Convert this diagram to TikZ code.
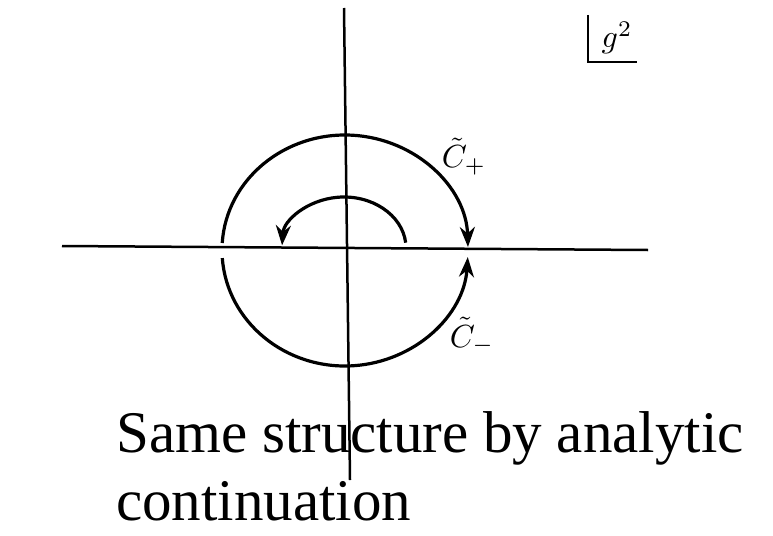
\documentclass[tikz,border=0pt]{standalone}
\usepackage{graphicx}
\usepackage[no-math]{fontspec}
\newfontfamily\capfont{Liberation Serif}
\usetikzlibrary{arrows.meta}
\newcommand{\bigmath}[1]{\scalebox{3.2}{$#1$}}
\begin{document}
\begin{tikzpicture}[x=1pt,y=-1pt,
  axis/.style={line width=2.5pt},
  contour/.style={line width=3.2pt,-{Stealth[length=20pt,width=15pt]}},
  mathlabel/.style={inner sep=0pt},
  caption/.style={font=\capfont\fontsize{59}{68}\selectfont, inner sep=0pt, anchor=base west}]
\useasboundingbox (0,0) rectangle (773,535);
\coordinate (O) at (345,250);
\coordinate (Oi) at (344,248);
% caption text
\node[caption] (cap1) at (116,452) {Same structure by analytic};
\node[caption] (cap2) at (116,520) {continuation};
% axes
\coordinate (xl) at (62,246);
\coordinate (xr) at (648,250);
\coordinate (yt) at (344,8);
\coordinate (yb) at (350,480);
\draw[axis] (xl) -- (xr);
\draw[axis] (yt) -- (yb);
% outer contours
\draw[contour] (O) ++(183.5:123 and 115) arc[start angle=183.5, end angle=358.5, x radius=123, y radius=115];
\draw[contour] (O) ++(176:123 and 116) arc[start angle=176, end angle=3.5, x radius=123, y radius=116];
% inner contour
\draw[contour] (Oi) ++(354:62 and 51) arc[start angle=354, end angle=183, x radius=62, y radius=51];
% labels
\node[mathlabel] (cp) at (464,157) {\bigmath{\tilde C_+}};
\node[mathlabel] (cm) at (472,336) {\bigmath{\tilde C_-}};
% g^2 corner
\coordinate (gc1) at (588,15);
\coordinate (gc2) at (588,62);
\coordinate (gc3) at (637,62);
\draw[line width=2.5pt] (gc1) -- (gc2) -- (gc3);
\node[mathlabel] (g) at (617,38) {\bigmath{g^2}};
\end{tikzpicture}
\end{document}
